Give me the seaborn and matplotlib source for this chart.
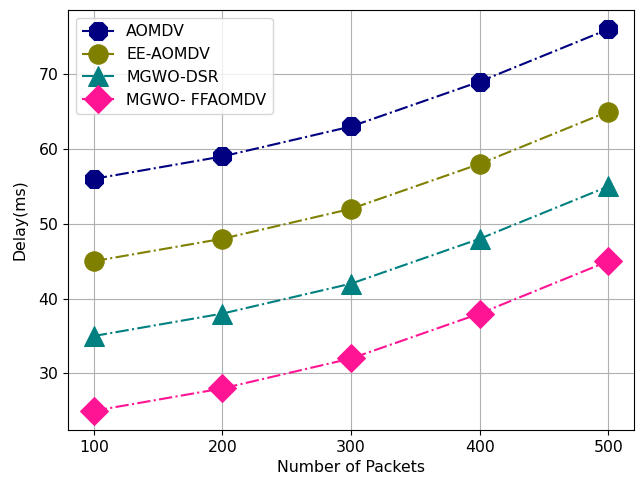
import matplotlib
matplotlib.use("Agg")
import matplotlib.pyplot as plt
import seaborn as sns
import pandas as pd

packets = [100, 200, 300, 400, 500]
aomdv = [56, 59, 63, 69, 76]
ee_aomdv = [45, 48, 52, 58, 65]
mgwo_dsr = [35, 38, 42, 48, 55]
mgwo_ffaomdv = [25, 28, 32, 38, 45]

names = ["AOMDV", "EE-AOMDV", "MGWO-DSR", "MGWO- FFAOMDV"]
series = [aomdv, ee_aomdv, mgwo_dsr, mgwo_ffaomdv]
colors = ["navy", "olive", "teal", "deeppink"]
markers = ["8", "o", "^", "D"]

rows = []
for name, vals in zip(names, series):
    for p, v in zip(packets, vals):
        rows.append({"packets": p, "delay": v, "method": name})
df = pd.DataFrame(rows)

plt.rcParams["font.size"] = 11.3

fig, ax = plt.subplots(figsize=(6.36, 4.82), dpi=100)
for name, color, marker in zip(names, colors, markers):
    sub = df[df["method"] == name]
    sns.lineplot(data=sub, x="packets", y="delay", ax=ax, color=color,
                 marker=marker, markersize=14, linestyle="-.",
                 markeredgecolor=color, label=name)

ax.set_xticks(packets)
ax.set_xlabel("Number of Packets")
ax.set_ylabel("Delay(ms)", labelpad=8)
ax.grid(True)
ax.legend(loc="upper left")
fig.subplots_adjust(left=0.107, right=0.997, top=0.979, bottom=0.108)
fig.savefig("out.png")
